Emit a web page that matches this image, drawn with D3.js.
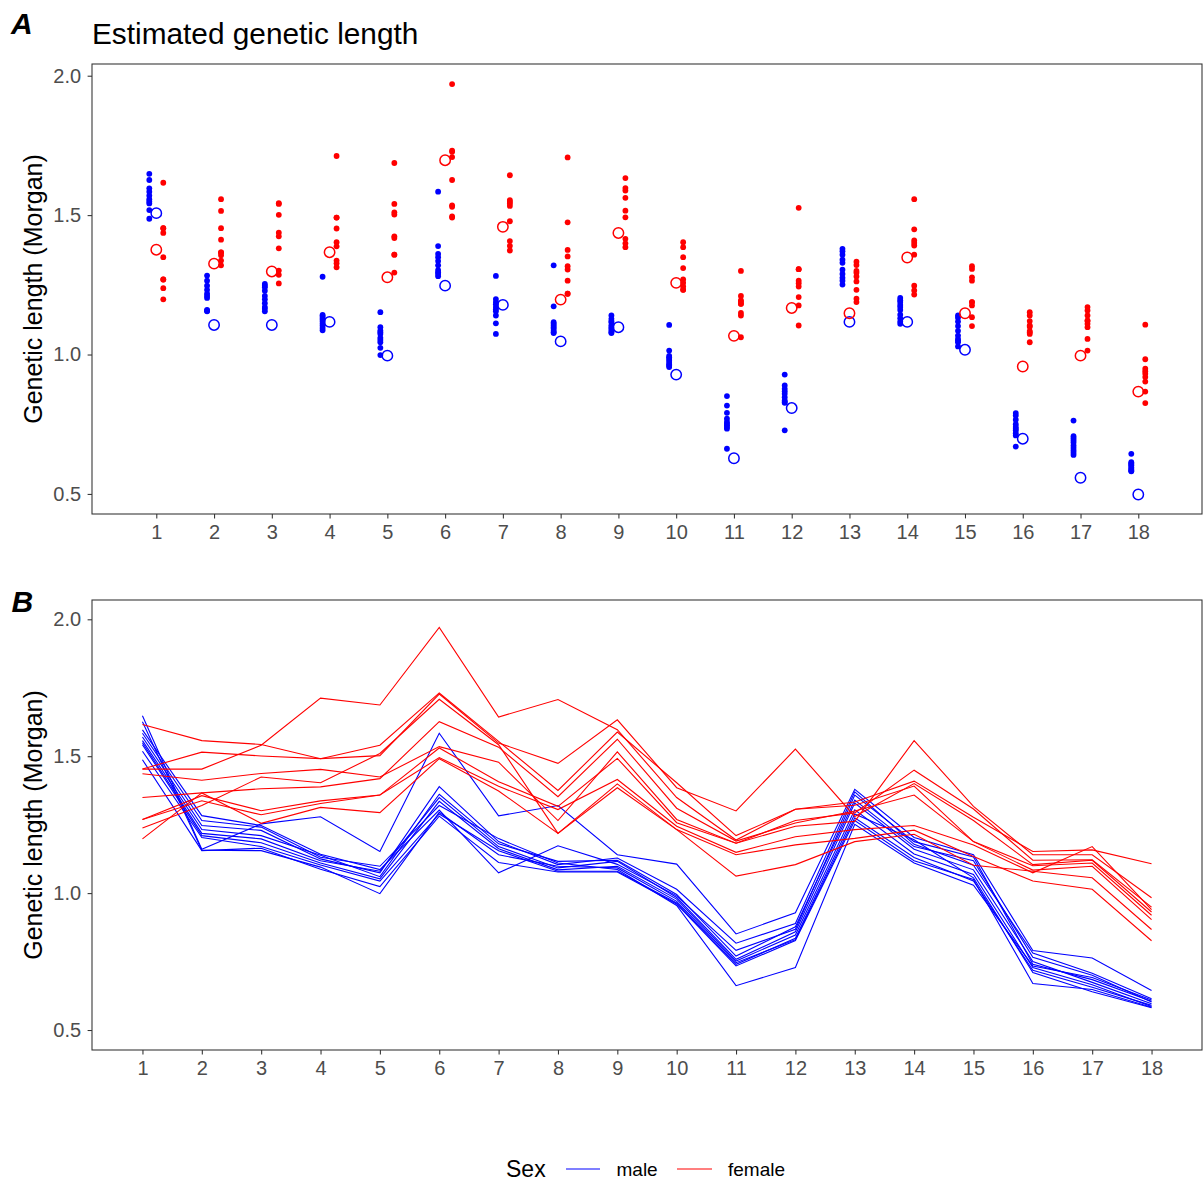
<!DOCTYPE html>
<html>
<head>
<meta charset="utf-8">
<script src="https://cdn.jsdelivr.net/npm/d3@7"></script>
<style>
  html, body { margin: 0; padding: 0; background: #fff; }
  svg { display: block; font-family: "Liberation Sans", Arial, Helvetica, sans-serif; }
</style>
</head>
<body>
<svg id="chart" width="1203" height="1180"></svg>
<script>
// ---------- DATA ----------
const chromosomes = [1,2,3,4,5,6,7,8,9,10,11,12,13,14,15,16,17,18];
const yTicks = [0.5, 1.0, 1.5, 2.0];

// male individuals (genetic length per chromosome, Morgan)
const male1  = [1.648,1.160,1.253,1.279,1.152,1.584,1.282,1.320,1.140,1.106,0.851,0.928,1.379,1.203,1.140,0.790,0.763,0.644];
const male2  = [1.626,1.157,1.155,1.095,0.998,1.295,1.140,1.098,1.092,0.970,0.746,0.830,1.275,1.130,1.044,0.718,0.656,0.590];
const male3  = [1.596,1.283,1.247,1.142,1.086,1.303,1.074,1.173,1.105,0.990,0.791,0.868,1.358,1.188,1.132,0.740,0.684,0.605];
const male4  = [1.584,1.265,1.241,1.131,1.098,1.320,1.199,1.110,1.086,0.955,0.662,0.728,1.251,1.110,1.029,0.734,0.692,0.610];
const male5  = [1.570,1.247,1.229,1.125,1.074,1.389,1.188,1.104,1.128,1.014,0.817,0.889,1.370,1.178,1.102,0.781,0.707,0.614];
const male6  = [1.557,1.232,1.210,1.138,1.060,1.361,1.180,1.116,1.120,0.995,0.770,0.877,1.340,1.170,1.118,0.766,0.700,0.602];
const male7  = [1.549,1.218,1.198,1.118,1.080,1.349,1.170,1.092,1.116,0.984,0.758,0.859,1.329,1.160,1.085,0.750,0.674,0.596];
const male8  = [1.542,1.210,1.184,1.110,1.052,1.335,1.162,1.085,1.098,0.978,0.752,0.847,1.304,1.143,1.068,0.728,0.665,0.586];
const male9  = [1.518,1.203,1.170,1.103,1.044,1.289,1.155,1.080,1.080,0.964,0.740,0.835,1.289,1.195,1.056,0.710,0.640,0.581];
const male10 = [1.487,1.155,1.164,1.087,1.024,1.281,1.112,1.077,1.077,0.960,0.734,0.827,1.265,1.118,1.050,0.670,0.648,0.583];

// female individuals
const female1 = [1.453,1.453,1.540,1.712,1.687,1.970,1.643,1.707,1.597,1.349,1.194,1.306,1.333,1.409,1.277,1.152,1.158,1.107];
const female2 = [1.616,1.557,1.543,1.491,1.540,1.731,1.554,1.375,1.588,1.403,1.210,1.306,1.321,1.391,1.188,1.100,1.110,0.919];
const female3 = [1.453,1.515,1.501,1.491,1.502,1.727,1.548,1.474,1.633,1.385,1.300,1.526,1.280,1.400,1.265,1.104,1.120,0.931];
const female4 = [1.436,1.412,1.437,1.452,1.424,1.535,1.478,1.265,1.516,1.269,1.182,1.265,1.293,1.449,1.307,1.120,1.122,0.949];
const female5 = [1.349,1.366,1.381,1.388,1.418,1.626,1.533,1.352,1.562,1.310,1.190,1.256,1.300,1.358,1.188,1.084,1.098,0.903];
const female6 = [1.269,1.356,1.301,1.337,1.358,1.530,1.407,1.317,1.492,1.257,1.182,1.244,1.262,1.557,1.317,1.140,1.140,0.983];
const female7 = [1.269,1.337,1.286,1.327,1.358,1.495,1.390,1.305,1.415,1.244,1.149,1.206,1.232,1.247,1.176,1.074,1.170,0.940];
const female8 = [1.238,1.320,1.424,1.403,1.510,1.708,1.542,1.218,1.399,1.232,1.140,1.176,1.200,1.230,1.134,1.044,1.014,0.826];
const female9 = [1.198,1.366,1.255,1.313,1.294,1.491,1.373,1.218,1.385,1.232,1.062,1.104,1.188,1.215,1.102,1.080,1.056,0.867];

// reference (open circle) values
const maleRef   = [1.507,1.106,1.106,1.117,0.996,1.247,1.178,1.047,1.098,0.928,0.628,0.808,1.117,1.117,1.017,0.698,0.558,0.498];
const femaleRef = [1.376,1.326,1.298,1.367,1.277,1.697,1.458,1.197,1.436,1.257,1.067,1.167,1.148,1.348,1.148,0.957,0.996,0.867];

const sexLabels = ["male", "female"];
const sexColors = {male: "#0000FF", female: "#FF0000"};

const males = [male1,male2,male3,male4,male5,male6,male7,male8,male9,male10];
const females = [female1,female2,female3,female4,female5,female6,female7,female8,female9];

// ---------- DRAW ----------
const svg = d3.select("#chart");
const tickColor = "#333333";
const labelColor = "#4d4d4d";

function panelFrame(g, x, y, xTickVals, left, right, top, bottom) {
  g.append("rect").attr("x", left).attr("y", top)
    .attr("width", right - left).attr("height", bottom - top)
    .attr("fill", "none").attr("stroke", tickColor).attr("stroke-width", 1.07);
  // y axis
  const ya = g.append("g").attr("transform", `translate(${left},0)`)
    .call(d3.axisLeft(y).tickValues(yTicks).tickFormat(d3.format(".1f")).tickSize(4.4).tickPadding(6.5));
  ya.select(".domain").remove();
  ya.selectAll("line").attr("stroke", tickColor).attr("stroke-width", 1.07);
  ya.selectAll("text").attr("fill", labelColor).style("font-size", "20px");
  // x axis
  const xa = g.append("g").attr("transform", `translate(0,${bottom})`)
    .call(d3.axisBottom(x).tickValues(xTickVals).tickFormat(d3.format("d")).tickSize(4.4).tickPadding(6));
  xa.select(".domain").remove();
  xa.selectAll("line").attr("stroke", tickColor).attr("stroke-width", 1.07);
  xa.selectAll("text").attr("fill", labelColor).style("font-size", "20px");
  // y title
  g.append("text")
    .attr("transform", `translate(42,${(top + bottom) / 2}) rotate(-90)`)
    .attr("text-anchor", "middle").attr("fill", "#000")
    .style("font-size", "25px").text("Genetic length (Morgan)");
}

// ----- Panel A -----
const A = {left: 92, right: 1202, top: 64, bottom: 514};
const xA = d3.scaleLinear().domain([-0.113, 19.103]).range([A.left, A.right]);
const yA = d3.scaleLinear().domain([0.428, 2.042]).range([A.bottom, A.top]);
const gA = svg.append("g");
panelFrame(gA, xA, yA, chromosomes, A.left, A.right, A.top, A.bottom);

const dodge = 0.121;
const maleDots = [];
males.forEach(ind => ind.forEach((v, i) => maleDots.push({c: chromosomes[i], v})));
const femaleDots = [];
females.forEach(ind => ind.forEach((v, i) => femaleDots.push({c: chromosomes[i], v})));

gA.append("g").selectAll("circle").data(maleDots).join("circle")
  .attr("cx", d => xA(d.c - dodge)).attr("cy", d => yA(d.v)).attr("r", 2.9)
  .attr("fill", sexColors.male);
gA.append("g").selectAll("circle").data(femaleDots).join("circle")
  .attr("cx", d => xA(d.c + dodge)).attr("cy", d => yA(d.v)).attr("r", 2.9)
  .attr("fill", sexColors.female);
gA.append("g").selectAll("circle").data(maleRef).join("circle")
  .attr("cx", (d, i) => xA(chromosomes[i])).attr("cy", d => yA(d)).attr("r", 5.2)
  .attr("fill", "none").attr("stroke", sexColors.male).attr("stroke-width", 1.5);
gA.append("g").selectAll("circle").data(femaleRef).join("circle")
  .attr("cx", (d, i) => xA(chromosomes[i])).attr("cy", d => yA(d)).attr("r", 5.2)
  .attr("fill", "none").attr("stroke", sexColors.female).attr("stroke-width", 1.5);

svg.append("text").attr("x", 92).attr("y", 44.3).attr("fill", "#000")
  .style("font-size", "29.8px").text("Estimated genetic length");
svg.append("text").attr("x", 11).attr("y", 34).attr("fill", "#000")
  .style("font-size", "30px").style("font-weight", "bold").style("font-style", "italic").text("A");

// ----- Panel B -----
const B = {left: 92, right: 1202, top: 600, bottom: 1050};
const xB = d3.scaleLinear().domain([0.15, 18.85]).range([B.left, B.right]);
const yB = d3.scaleLinear().domain([0.427, 2.0705]).range([B.bottom, B.top]);
const gB = svg.append("g");
panelFrame(gB, xB, yB, chromosomes, B.left, B.right, B.top, B.bottom);

const line = d3.line().x((d, i) => xB(chromosomes[i])).y(d => yB(d));
gB.append("g").selectAll("path").data(males).join("path")
  .attr("d", line).attr("fill", "none").attr("stroke", sexColors.male).attr("stroke-width", 1.1);
gB.append("g").selectAll("path").data(females).join("path")
  .attr("d", line).attr("fill", "none").attr("stroke", sexColors.female).attr("stroke-width", 1.1);

svg.append("text").attr("x", 11.5).attr("y", 611.7).attr("fill", "#000")
  .style("font-size", "30px").style("font-weight", "bold").style("font-style", "italic").text("B");

// ----- Legend -----
const lg = svg.append("g");
lg.append("text").attr("x", 506).attr("y", 1176.5).attr("fill", "#000")
  .style("font-size", "23px").text("Sex");
const legendItems = [
  {label: sexLabels[0], x0: 566, x1: 600, tx: 616.5},
  {label: sexLabels[1], x0: 677, x1: 712, tx: 728}
];
legendItems.forEach(it => {
  lg.append("line").attr("x1", it.x0).attr("x2", it.x1).attr("y1", 1169).attr("y2", 1169)
    .attr("stroke", sexColors[it.label]).attr("stroke-width", 1.1);
  lg.append("text").attr("x", it.tx).attr("y", 1176).attr("fill", "#000")
    .style("font-size", "19px").text(it.label);
});
</script>
</body>
</html>
